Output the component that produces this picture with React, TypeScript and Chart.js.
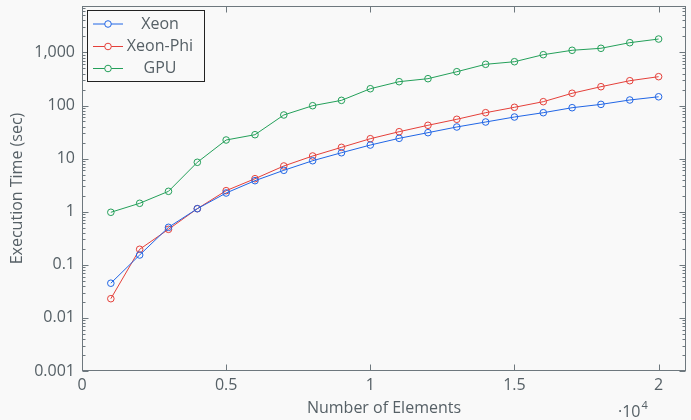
import { useEffect, useRef } from "react";
import { Chart, registerables } from "chart.js";

Chart.register(...registerables);

const elements = [1000, 2000, 3000, 4000, 5000, 6000, 7000, 8000, 9000, 10000, 11000, 12000, 13000, 14000, 15000, 16000, 17000, 18000, 19000, 20000];
const xeon = [0.045, 0.153, 0.508, 1.14, 2.25, 3.84, 6.02, 9.12, 12.9, 18.0, 24.1, 30.8, 39.4, 48.9, 60.7, 73.2, 90.9, 105, 127, 146];
const xeonPhi = [0.023, 0.196, 0.466, 1.14, 2.49, 4.18, 7.26, 11.2, 16.3, 23.7, 32.1, 42.4, 55.0, 73.2, 92.5, 118, 170, 226, 293, 349];
const gpu = [0.975, 1.44, 2.42, 8.52, 22.4, 28.2, 66.3, 99.1, 125, 207, 281, 320, 433, 597, 668, 906, 1096, 1195, 1524, 1785];
const seriesNames = ["Xeon", "Xeon-Phi", "GPU"];
const seriesColors = ["#2166e6", "#e5403a", "#24a05a"];

const yTickValues = [0.001, 0.01, 0.1, 1, 10, 100, 1000];
const yTickLabels = ["0.001", "0.01", "0.1", "1", "10", "100", "1,000"];
const xTickValues = [0, 5000, 10000, 15000, 20000];
const xTickLabels = ["0", "0.5", "1", "1.5", "2"];
const xTitle = "Number of Elements";
const yTitle = "Execution Time (sec)";
const xScaleNote = "·10";
const xScaleExp = "4";

const BG = "#f9f9f9";
const TEXT = "#566066";
const AXIS = "#6e787e";
const FONT = "'Open Sans', 'Noto Sans', sans-serif";

const decorPlugin = {
  id: "decor",
  beforeDraw(chart: any) {
    const ctx = chart.ctx;
    ctx.save();
    ctx.fillStyle = BG;
    ctx.fillRect(0, 0, chart.width, chart.height);
    ctx.restore();
  },
  afterDraw(chart: any) {
    const ctx = chart.ctx;
    const a = chart.chartArea;
    const xs = chart.scales.x;
    const ys = chart.scales.y;
    const L = Math.round(a.left) + 0.5;
    const R = Math.round(a.right) - 0.5;
    const T = Math.round(a.top) + 0.5;
    const B = Math.round(a.bottom) - 0.5;
    ctx.save();
    ctx.strokeStyle = AXIS;
    ctx.lineWidth = 1;
    ctx.beginPath();
    // x major ticks (bottom + top)
    for (const v of xTickValues) {
      const px = Math.round(xs.getPixelForValue(v)) + 0.5;
      ctx.moveTo(px, B);
      ctx.lineTo(px, B - 6);
      ctx.moveTo(px, T);
      ctx.lineTo(px, T + 6);
    }
    // y major + minor ticks (left + right)
    for (const v of yTickValues) {
      const py = Math.round(ys.getPixelForValue(v)) + 0.5;
      ctx.moveTo(L, py);
      ctx.lineTo(L + 6, py);
      ctx.moveTo(R, py);
      ctx.lineTo(R - 6, py);
      for (let k = 2; k <= 9; k++) {
        const mv = v * k;
        if (mv > ys.max) break;
        const my = Math.round(ys.getPixelForValue(mv)) + 0.5;
        ctx.moveTo(L, my);
        ctx.lineTo(L + 3, my);
        ctx.moveTo(R, my);
        ctx.lineTo(R - 3, my);
      }
    }
    ctx.stroke();
    ctx.strokeRect(L, T, R - L, B - T);
    ctx.restore();

    // titles
    ctx.save();
    ctx.fillStyle = TEXT;
    ctx.font = `16px ${FONT}`;
    ctx.textAlign = "center";
    ctx.textBaseline = "middle";
    ctx.fillText(xTitle, (a.left + a.right) / 2, 408);
    ctx.save();
    ctx.translate(17, (a.top + a.bottom) / 2);
    ctx.rotate(-Math.PI / 2);
    ctx.fillText(yTitle, 0, 0);
    ctx.restore();
    ctx.textAlign = "left";
    ctx.font = `16px ${FONT}`;
    ctx.fillText(xScaleNote, 618, 412);
    const w = ctx.measureText(xScaleNote).width;
    ctx.font = `11px ${FONT}`;
    ctx.fillText(xScaleExp, 618 + w + 1, 406);
    ctx.restore();

    // legend
    const lx = 87.5, ly = 10.5, lw = 117, lh = 71;
    ctx.save();
    ctx.fillStyle = BG;
    ctx.fillRect(lx, ly, lw, lh);
    ctx.strokeStyle = "#222222";
    ctx.lineWidth = 1;
    ctx.strokeRect(lx, ly, lw, lh);
    const rows = [24, 46.5, 68.5];
    chart.data.datasets.forEach((ds: any, i: number) => {
      const y = rows[i];
      ctx.strokeStyle = ds.borderColor;
      ctx.beginPath();
      ctx.moveTo(93, y);
      ctx.lineTo(123, y);
      ctx.stroke();
      ctx.beginPath();
      ctx.arc(108, y, 3.3, 0, Math.PI * 2);
      ctx.fillStyle = BG;
      ctx.fill();
      ctx.stroke();
      ctx.fillStyle = TEXT;
      ctx.font = `16px ${FONT}`;
      ctx.textAlign = "center";
      ctx.textBaseline = "middle";
      ctx.fillText(ds.label, 160, y);
    });
    ctx.restore();
  },
};

export default function App() {
  const ref = useRef<HTMLCanvasElement | null>(null);
  useEffect(() => {
    document.body.style.margin = "0";
    document.body.style.background = BG;
    const canvas = ref.current;
    if (!canvas) return;
    const series = [xeon, xeonPhi, gpu];
    const chart = new Chart(canvas, {
      type: "line",
      data: {
        datasets: series.map((vals, i) => ({
          label: seriesNames[i],
          data: elements.map((x, j) => ({ x, y: vals[j] })),
          borderColor: seriesColors[i],
          backgroundColor: "transparent",
          borderWidth: 1,
          pointRadius: 3.3,
          pointBorderWidth: 1,
          pointBackgroundColor: "rgba(0,0,0,0)",
          pointBorderColor: seriesColors[i],
          tension: 0,
        })),
      },
      options: {
        responsive: false,
        animation: false,
        devicePixelRatio: 1,
        layout: { padding: { left: 0, right: 1, top: 6, bottom: 0 } },
        plugins: { legend: { display: false }, tooltip: { enabled: false } },
        scales: {
          x: {
            type: "linear",
            min: 0,
            max: 20950,
            afterBuildTicks: (s: any) => {
              s.ticks = xTickValues.map((v) => ({ value: v }));
            },
            afterFit: (s: any) => {
              s.height = 49;
              s.paddingLeft = 0;
              s.paddingRight = 0;
              s.paddingTop = 0;
              s.paddingBottom = 0;
            },
            grid: { display: false, drawTicks: false },
            border: { display: false },
            ticks: {
              autoSkip: false,
              maxRotation: 0,
              padding: 5,
              color: TEXT,
              font: { family: FONT, size: 16 },
              callback: (v: any) => {
                const i = xTickValues.indexOf(Number(v));
                return i >= 0 ? xTickLabels[i] : "";
              },
            },
          },
          y: {
            type: "logarithmic",
            min: 0.001,
            max: 7480,
            afterBuildTicks: (s: any) => {
              s.ticks = yTickValues.map((v) => ({ value: v }));
            },
            afterFit: (s: any) => {
              s.width = 82;
              s.paddingLeft = 0;
              s.paddingRight = 0;
              s.paddingTop = 0;
              s.paddingBottom = 0;
            },
            grid: { display: false, drawTicks: false },
            border: { display: false },
            ticks: {
              autoSkip: false,
              padding: 7,
              color: TEXT,
              font: { family: FONT, size: 16 },
              callback: (v: any) => {
                const i = yTickValues.findIndex((t) => Math.abs(t - Number(v)) < t * 1e-6);
                return i >= 0 ? yTickLabels[i] : "";
              },
            },
          },
        },
      },
      plugins: [decorPlugin],
    });
    return () => chart.destroy();
  }, []);
  return <canvas ref={ref} width={691} height={420} style={{ display: "block" }} />;
}
